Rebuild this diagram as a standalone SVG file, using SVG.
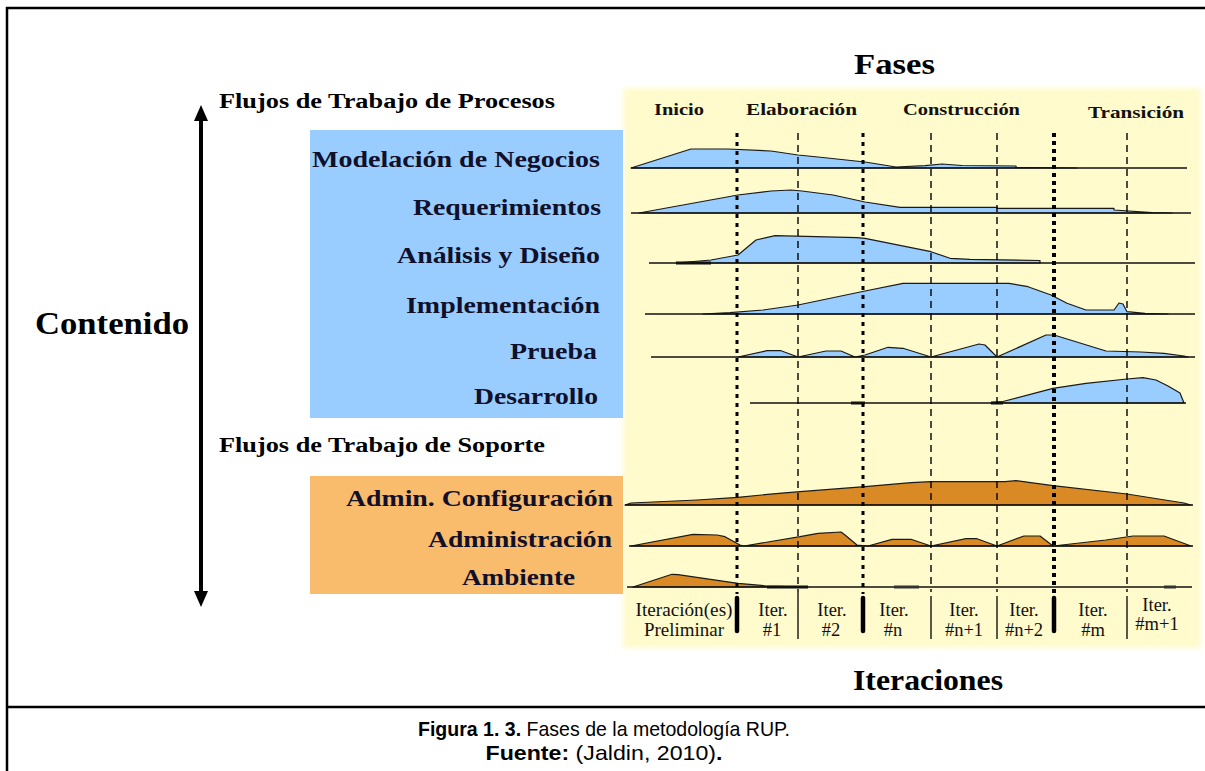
<svg xmlns="http://www.w3.org/2000/svg" width="1205" height="771" viewBox="0 0 1205 771">
  <defs>
    <filter id="soft" x="-5%" y="-5%" width="110%" height="110%">
      <feGaussianBlur stdDeviation="2.5"/>
    </filter>
    <marker id="head" markerUnits="userSpaceOnUse" markerWidth="16" markerHeight="16" viewBox="0 0 16 16" refX="8" refY="8" orient="auto-start-reverse">
      <path d="M0,1 L16,8 L0,15 Z" fill="#000"/>
    </marker>
  </defs>
  <style>
    .lbl { font-family: "Liberation Serif", "Times New Roman", serif; font-weight: bold; fill: #10102a; }
    .big { font-family: "Liberation Serif", "Times New Roman", serif; font-weight: bold; fill: #000; }
    .phase { font-family: "Liberation Serif", "Times New Roman", serif; font-weight: bold; font-size: 17px; fill: #111; }
    .iter { font-family: "Liberation Serif", "Times New Roman", serif; font-size: 18.5px; fill: #111; text-anchor: middle; }
    .cap { font-family: "Liberation Sans", Arial, sans-serif; font-size: 21px; fill: #000; text-anchor: middle; }
    .base { stroke: #111; stroke-width: 1.6; fill: none; }
    .blue { fill: #99CCFF; stroke: #1a1a1a; stroke-width: 1.2; stroke-linejoin: round; }
    .orng { fill: #D98A24; stroke: #1a1a1a; stroke-width: 1.2; stroke-linejoin: round; }
    .thk { stroke: #000; stroke-width: 3; stroke-dasharray: 4 5; fill: none; }
    .thk2 { stroke: #000; stroke-width: 4; stroke-dasharray: 4 4; fill: none; }
    .thn { stroke: #000; stroke-width: 1.4; stroke-dasharray: 7 5; fill: none; }
    .bar { stroke: #000; stroke-width: 4.5; stroke-linecap: round; }
    .sep { stroke: #000; stroke-width: 1.3; }
    .frame { stroke: #000; stroke-width: 2.5; fill: none; }
  </style>

  <!-- frame -->
  <g id="frame">
    <rect x="0" y="0" width="1205" height="771" fill="#fff"/>
    <line class="frame" x1="6" y1="8" x2="1205" y2="8"/>
    <line class="frame" x1="7" y1="7" x2="7" y2="771"/>
    <line class="frame" x1="6" y1="707" x2="1205" y2="707"/>
  </g>

  <!-- background panels -->
  <g id="panel-fases">
    <rect x="623" y="88" width="578" height="560" fill="#FFFBCC" filter="url(#soft)"/>
  </g>
  <g id="panel-procesos">
    <rect x="310" y="130" width="313" height="288" fill="#99CCFF"/>
  </g>
  <g id="panel-soporte">
    <rect x="310" y="476" width="313" height="118" fill="#F9BB6C"/>
  </g>

  <!-- titles -->
  <g id="title-fases"><text class="big" x="854" y="74" font-size="29" textLength="81" lengthAdjust="spacingAndGlyphs">Fases</text></g>
  <g id="title-iteraciones"><text class="big" x="853" y="690" font-size="29" textLength="150" lengthAdjust="spacingAndGlyphs">Iteraciones</text></g>
  <g id="title-contenido"><text class="big" x="35" y="334" font-size="31" textLength="154" lengthAdjust="spacingAndGlyphs">Contenido</text></g>
  <g id="title-procesos"><text class="big" x="219" y="108" font-size="20" textLength="336" lengthAdjust="spacingAndGlyphs">Flujos de Trabajo de Procesos</text></g>
  <g id="title-soporte"><text class="big" x="219" y="452" font-size="20" textLength="326" lengthAdjust="spacingAndGlyphs">Flujos de Trabajo de Soporte</text></g>

  <!-- phase labels -->
  <g id="phases">
    <text class="phase" x="654" y="115" textLength="50" lengthAdjust="spacingAndGlyphs">Inicio</text>
    <text class="phase" x="746" y="115" textLength="111" lengthAdjust="spacingAndGlyphs">Elaboración</text>
    <text class="phase" x="903" y="115" textLength="117" lengthAdjust="spacingAndGlyphs">Construcción</text>
    <text class="phase" x="1088" y="118" textLength="96" lengthAdjust="spacingAndGlyphs">Transición</text>
  </g>

  <!-- workflow labels -->
  <g id="wf-modelacion"><text class="lbl" x="312" y="167" font-size="23" textLength="288" lengthAdjust="spacingAndGlyphs">Modelación de Negocios</text></g>
  <g id="wf-requerimientos"><text class="lbl" x="413" y="215" font-size="23" textLength="188" lengthAdjust="spacingAndGlyphs">Requerimientos</text></g>
  <g id="wf-analisis"><text class="lbl" x="397" y="263" font-size="23" textLength="203" lengthAdjust="spacingAndGlyphs">Análisis y Diseño</text></g>
  <g id="wf-implementacion"><text class="lbl" x="406" y="313" font-size="23" textLength="194" lengthAdjust="spacingAndGlyphs">Implementación</text></g>
  <g id="wf-prueba"><text class="lbl" x="510" y="359" font-size="23" textLength="87" lengthAdjust="spacingAndGlyphs">Prueba</text></g>
  <g id="wf-desarrollo"><text class="lbl" x="474" y="404" font-size="23" textLength="124" lengthAdjust="spacingAndGlyphs">Desarrollo</text></g>
  <g id="wf-config"><text class="lbl" x="346" y="506" font-size="23" textLength="267" lengthAdjust="spacingAndGlyphs">Admin. Configuración</text></g>
  <g id="wf-admin"><text class="lbl" x="428" y="547" font-size="23" textLength="184" lengthAdjust="spacingAndGlyphs">Administración</text></g>
  <g id="wf-ambiente"><text class="lbl" x="462" y="585" font-size="23" textLength="113" lengthAdjust="spacingAndGlyphs">Ambiente</text></g>

  <!-- workload curves -->
  <g id="curves">
    <path class="blue" d="M631,168 L691,149 L728,149 L771,151 L798,155 L818,157 L865,162 L896,167 L925,165.7 L942,164 L962,165.5 L1016,166 L1016,167.3 L1077,168 Z"/>
    <line class="base" x1="631" y1="168" x2="1187" y2="168"/>

    <path class="blue" d="M639,213 L738,195 L771,191 L791,190 L802,191 L833,195 L865,202 L900,207.3 L997,207.3 L997,208.3 L1114,208.3 L1114,210 L1152,212.7 L1172,213 Z"/>
    <line class="base" x1="631" y1="213" x2="1191" y2="213"/>

    <path class="blue" d="M676,263 L711,260 L738,255 L756,240 L775,235.7 L857,237.7 L865,238.3 L931,251.7 L950,258.3 L970,259.3 L1040,260.5 L1040,263 Z"/>
    <line class="base" x1="649" y1="263" x2="1195" y2="263"/>
    <line stroke="#111" stroke-width="3" x1="676" y1="263" x2="711" y2="263"/>

    <path class="blue" d="M703,314 L730,312.7 L763,310 L798,305 L865,291 L903,283.3 L1009,283.3 L1028,286.7 L1051,295 L1067,303.3 L1086,310 L1114,310 L1119,303 L1123,304 L1127,311.7 L1145,313.3 L1168,314 Z"/>
    <line class="base" x1="645" y1="314" x2="1195" y2="314"/>

    <path class="blue" d="M738,357 L767,350.7 L781,350.7 L798,357 L826,351 L841,351 L855,357 L865,355 L888,347.3 L903,348.3 L931,357 L979,344 L985,345 L997,357 L1046,335 L1054,335 L1106,351 L1141,352 L1164,353.3 L1184,356 L1188,357 Z"/>
    <line class="base" x1="651" y1="357" x2="1195" y2="357"/>

    <path class="blue" d="M991,402.5 L1003,401.5 L1053,388.3 L1086,383.3 L1127,379 L1143,377.7 L1156,380 L1168,386 L1180,393 L1184,403 L991,403 Z"/>
    <line class="base" x1="750" y1="403" x2="1186" y2="403"/>
    <line stroke="#111" stroke-width="3" x1="851" y1="403" x2="865" y2="403"/>
    <line stroke="#111" stroke-width="3" x1="991" y1="403" x2="1003" y2="403"/>

    <path class="orng" d="M625,505 L631,503 L697,500 L738,497.3 L779,493.3 L800,491.7 L865,486.7 L911,482.7 L931,481.7 L1005,481.7 L1016,480.7 L1053,485.7 L1127,494 L1184,503 L1191,505 Z"/>
    <line class="base" x1="625" y1="505" x2="1193" y2="505"/>

    <path class="orng" d="M631,546 L693,534.3 L717,535 L725,536.7 L740,545 L744,546 Z"/>
    <path class="orng" d="M744,546 L800,536.7 L818,533.3 L841,532 L845,535 L857,545 L868,546 Z"/>
    <path class="orng" d="M868,546 L892,539.3 L911,539.3 L931,546 Z"/>
    <path class="orng" d="M931,546 L966,538.7 L977,538.7 L997,546 Z"/>
    <path class="orng" d="M997,546 L1024,536 L1040,536 L1053,546 Z"/>
    <path class="orng" d="M1053,546 L1106,540 L1133,536 L1164,536 L1191,546 Z"/>
    <line class="base" x1="629" y1="546" x2="1193" y2="546"/>

    <path class="orng" d="M633,587 L672,574.3 L678,574.7 L738,583.3 L767,586 L808,587 Z"/>
    <line class="base" x1="627" y1="587" x2="1192" y2="587"/>
    <line stroke="#111" stroke-width="3" x1="767" y1="587" x2="808" y2="587"/>
    <line stroke="#333" stroke-width="3" x1="894" y1="587" x2="919" y2="587"/>
    <line stroke="#333" stroke-width="3" x1="1164" y1="587" x2="1176" y2="587"/>
  </g>

  <!-- iteration boundaries -->
  <g id="boundaries">
    <line class="thk" x1="737" y1="133" x2="737" y2="594"/>
    <line class="thk" x1="863" y1="133" x2="863" y2="594"/>
    <line class="thk2" x1="1054" y1="133" x2="1054" y2="594"/>
    <line class="thn" x1="798" y1="133" x2="798" y2="592"/>
    <line class="thn" x1="931" y1="133" x2="931" y2="592"/>
    <line class="thn" x1="997" y1="133" x2="997" y2="592"/>
    <line class="thn" x1="1127" y1="133" x2="1127" y2="592"/>
    <line class="bar" x1="737" y1="598" x2="737" y2="631"/>
    <line class="bar" x1="863" y1="598" x2="863" y2="631"/>
    <line class="bar" x1="1054" y1="598" x2="1054" y2="631"/>
    <line class="sep" x1="798" y1="592" x2="798" y2="639"/>
    <line class="sep" x1="931" y1="596" x2="931" y2="639"/>
    <line class="sep" x1="997" y1="596" x2="997" y2="639"/>
    <line class="sep" x1="1127" y1="596" x2="1127" y2="639"/>
  </g>

  <!-- iteration labels -->
  <g id="iterations">
    <text class="iter" x="684" y="616" textLength="97" lengthAdjust="spacingAndGlyphs">Iteración(es)</text>
    <text class="iter" x="684" y="636" textLength="80" lengthAdjust="spacingAndGlyphs">Preliminar</text>
    <text class="iter" x="773" y="616">Iter.</text>
    <text class="iter" x="772" y="636">#1</text>
    <text class="iter" x="832" y="616">Iter.</text>
    <text class="iter" x="831" y="636">#2</text>
    <text class="iter" x="894" y="616">Iter.</text>
    <text class="iter" x="893" y="636">#n</text>
    <text class="iter" x="964" y="616">Iter.</text>
    <text class="iter" x="964" y="636">#n+1</text>
    <text class="iter" x="1024" y="616">Iter.</text>
    <text class="iter" x="1024" y="636">#n+2</text>
    <text class="iter" x="1093" y="616">Iter.</text>
    <text class="iter" x="1093" y="636">#m</text>
    <text class="iter" x="1157" y="611">Iter.</text>
    <text class="iter" x="1157" y="630">#m+1</text>
  </g>

  <!-- connectors -->
  <g id="connectors">
    <line x1="201" y1="113" x2="201" y2="599" stroke="#000" stroke-width="4" marker-start="url(#head)" marker-end="url(#head)"/>
  </g>

  <!-- caption -->
  <g id="caption">
    <text class="cap" x="604" y="736" textLength="372" lengthAdjust="spacingAndGlyphs"><tspan font-weight="bold">Figura 1. 3.</tspan> Fases de la metodología RUP.</text>
    <text class="cap" x="604" y="760" textLength="237" lengthAdjust="spacingAndGlyphs"><tspan font-weight="bold">Fuente:</tspan>  (Jaldin, 2010)<tspan font-weight="bold">.</tspan></text>
  </g>
</svg>
